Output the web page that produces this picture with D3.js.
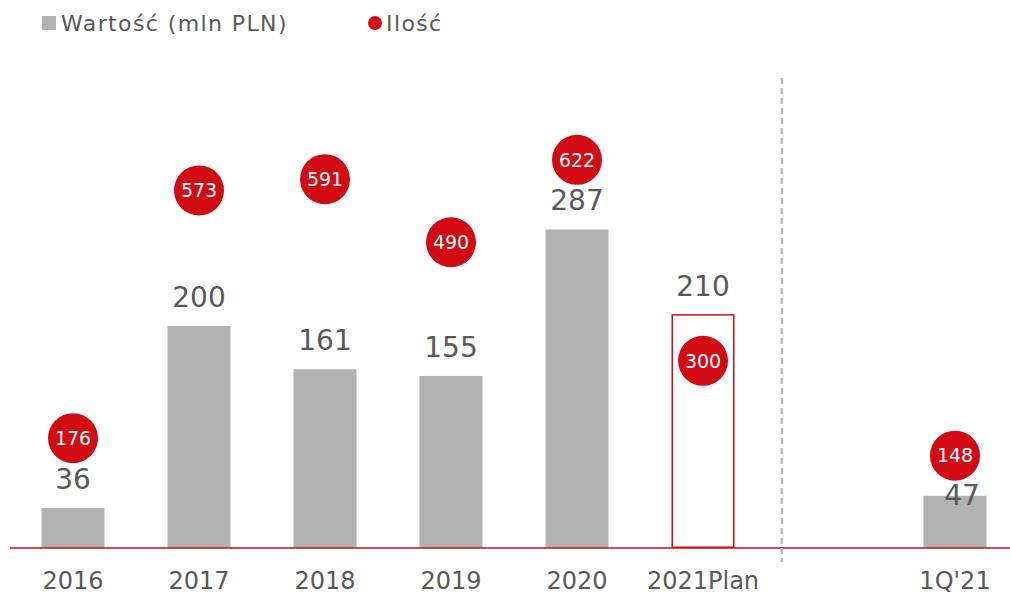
<!DOCTYPE html>
<html>
<head>
<meta charset="utf-8">
<script src="https://cdn.jsdelivr.net/npm/d3@7"></script>
<style>
  body { margin: 0; background: #fff; }
  svg text { font-family: "DejaVu Sans", sans-serif; }
</style>
</head>
<body>
<div id="chart"></div>
<script>
// categories, with an empty slot between the plan and the quarter
var categories = ["2016", "2017", "2018", "2019", "2020", "2021Plan", "", "1Q'21"];
var years = ["2016", "2017", "2018", "2019", "2020", "2021Plan", "1Q'21"];
var wartosc = [36, 200, 161, 155, 287, 210, 47];
var ilosc = [176, 573, 591, 490, 622, 300, 148];

var width = 1010, height = 595;
var grey = "#b2b2b2", red = "#d20a14", text = "#595959";

var svg = d3.select("#chart").append("svg")
    .attr("width", width)
    .attr("height", height);

var x = d3.scaleBand()
    .domain(categories)
    .range([10, 1018])
    .paddingInner(0.5)
    .paddingOuter(0.25);

var y = d3.scaleLinear().domain([0, 400]).range([548, 104]);
var y2 = d3.scaleLinear().domain([0, 700]).range([548, 111.2]);

var data = years.map(function (c, i) {
    return { cat: c, val: wartosc[i], cnt: ilosc[i], plan: c === "2021Plan", q: c === "1Q'21" };
});

// bars
svg.selectAll("rect.bar")
    .data(data)
    .enter().append("rect")
    .attr("class", "bar")
    .attr("x", function (d) { return x(d.cat) + (d.plan ? 0.75 : 0); })
    .attr("y", function (d) { return y(d.val); })
    .attr("width", function (d) { return x.bandwidth() - (d.plan ? 1.5 : 0); })
    .attr("height", function (d) { return y(0) - y(d.val) - (d.plan ? 0.75 : 0); })
    .attr("fill", function (d) { return d.plan ? "none" : grey; })
    .attr("stroke", function (d) { return d.plan ? red : "none"; })
    .attr("stroke-width", 1.5);

// baseline
svg.append("line")
    .attr("x1", 10).attr("x2", width)
    .attr("y1", y(0)).attr("y2", y(0))
    .attr("stroke", red)
    .attr("stroke-width", 1.5);

// separator before the quarter
var sepX = x("2021Plan") + x.bandwidth() + x.step() * 0.375;
svg.append("line")
    .attr("x1", sepX).attr("x2", sepX)
    .attr("y1", 78).attr("y2", 562)
    .attr("stroke", "#b0b0b0")
    .attr("stroke-width", 2)
    .attr("stroke-dasharray", "6,4");

// value labels (the quarter's label sits lower, under its dot)
svg.selectAll("text.val")
    .data(data)
    .enter().append("text")
    .attr("class", "val")
    .attr("x", function (d) { return x(d.cat) + x.bandwidth() / 2 + (d.q ? 7 : 0); })
    .attr("y", function (d) { return y(d.val) + (d.q ? 9 : -19); })
    .attr("text-anchor", "middle")
    .attr("font-size", 28)
    .attr("fill", text)
    .text(function (d) { return d.val; });

// count dots
var dots = svg.selectAll("g.dot")
    .data(data)
    .enter().append("g")
    .attr("class", "dot")
    .attr("transform", function (d) {
        return "translate(" + (x(d.cat) + x.bandwidth() / 2) + "," + y2(d.cnt) + ")";
    });
dots.append("circle")
    .attr("r", 25)
    .attr("fill", red);
dots.append("text")
    .attr("text-anchor", "middle")
    .attr("dy", "0.36em")
    .attr("font-size", 19)
    .attr("fill", "#fff")
    .text(function (d) { return d.cnt; });

// category axis
var axis = svg.append("g")
    .attr("transform", "translate(0," + y(0) + ")")
    .call(d3.axisBottom(x).tickSize(0).tickPadding(24));
axis.select(".domain").remove();
axis.selectAll("text")
    .attr("font-size", 24)
    .attr("fill", text)
    .attr("dy", "0.71em");

// legend
var legend = svg.append("g");
legend.append("rect")
    .attr("x", 42).attr("y", 16)
    .attr("width", 14).attr("height", 14)
    .attr("fill", grey);
legend.append("text")
    .attr("x", 61).attr("y", 23)
    .attr("dy", "0.35em")
    .attr("font-size", 22)
    .attr("letter-spacing", 1.4)
    .attr("fill", text)
    .text("Wartość (mln PLN)");
legend.append("circle")
    .attr("cx", 375).attr("cy", 23)
    .attr("r", 7)
    .attr("fill", red);
legend.append("text")
    .attr("x", 386).attr("y", 23)
    .attr("dy", "0.35em")
    .attr("font-size", 22)
    .attr("letter-spacing", 1.4)
    .attr("fill", text)
    .text("Ilość");
</script>
</body>
</html>
